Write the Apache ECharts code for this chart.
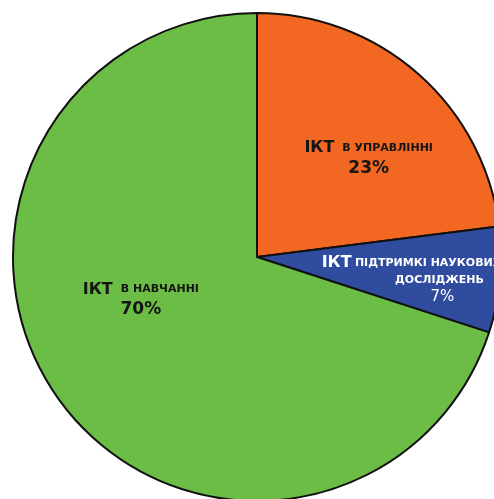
<!DOCTYPE html>
<html>
<head>
    <meta charset="utf-8">
    <title>ІКТ</title>
    <script src="https://cdn.jsdelivr.net/npm/echarts@6/dist/echarts.min.js"></script>
    <style>
        html, body { margin: 0; padding: 0; background: #fff; }
        #main { width: 494px; height: 499px; }
    </style>
</head>
<body>
    <div id="main"></div>
    <script type="text/javascript">
        // дані
        var names = ['в управлінні', 'підтримкі наукових досліджень', 'в навчанні'];
        var values = [23, 7, 70];
        var colors = ['#f26722', '#2f4c9f', '#6bbd46'];
        // зсув підписів від стандартного положення 'inside'
        var labelShift = [[29, -5], [30, 11], [-15, -31]];

        var myChart = echarts.init(document.getElementById('main'));

        var font = 'DejaVu Sans';
        var rich = {
            big: { fontFamily: font, fontSize: 16, fontWeight: 'bold', color: '#151515', lineHeight: 20 },
            small: { fontFamily: font, fontSize: 11, fontWeight: 'bold', color: '#151515', lineHeight: 20, padding: [0, 0, 0, 8] },
            pct: { fontFamily: font, fontSize: 17, fontWeight: 'bold', color: '#151515', lineHeight: 20 },
            bigw: { fontFamily: font, fontSize: 16, fontWeight: 'bold', color: '#fff', lineHeight: 17 },
            smallw: { fontFamily: font, fontSize: 11, fontWeight: 'bold', color: '#fff', lineHeight: 17 },
            smallw2: { fontFamily: font, fontSize: 11, fontWeight: 'bold', color: '#fff', lineHeight: 17, padding: [0, 0, 0, 56] },
            pctw: { fontFamily: font, fontSize: 15, color: '#fff', lineHeight: 17, padding: [0, 0, 0, 62] }
        };

        var data = names.map(function (n, i) {
            return { name: n, value: values[i], itemStyle: { color: colors[i] } };
        });

        var option = {
            backgroundColor: '#fff',
            animation: false,
            series: [{
                type: 'pie',
                center: [257, 257],
                radius: 244,
                startAngle: 90,
                clockwise: true,
                silent: true,
                itemStyle: { borderColor: '#111', borderWidth: 2 },
                label: {
                    show: true,
                    position: 'inside',
                    rich: rich,
                    formatter: function (p) {
                        var up = p.name.toUpperCase();
                        if (p.dataIndex === 1) {
                            var parts = up.split(' ');
                            return '{bigw|ІКТ} {smallw|' + parts[0] + ' ' + parts[1] + '}\n{smallw2|' + parts[2] + '}\n{pctw|' + p.value + '%}';
                        }
                        return '{big|ІКТ}{small|' + up + '}\n{pct|' + p.value + '%}';
                    }
                },
                labelLine: { show: false },
                labelLayout: function (params) {
                    var s = labelShift[params.dataIndex];
                    return { dx: s[0], dy: s[1] };
                },
                data: data
            }]
        };
        myChart.setOption(option);
    </script>
</body>
</html>
